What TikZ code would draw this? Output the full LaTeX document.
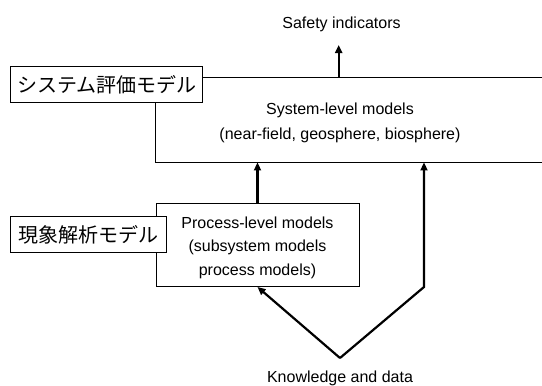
\documentclass[tikz,border=0pt]{standalone}
\usepackage{fontspec}
\setmainfont{Liberation Sans}
\newfontfamily\jpfont{Noto Sans CJK JP}
\usetikzlibrary{positioning,arrows.meta,calc}

\begin{document}
\begin{tikzpicture}[x=1pt,y=-1pt,
  box/.style={draw=black,line width=0.9pt,fill=white,inner sep=0pt},
  lbl/.style={draw=black,line width=0.9pt,fill=white,inner sep=0pt,font=\jpfont\fontsize{20}{24}\selectfont},
  txt/.style={inner sep=0pt,align=center,font=\fontsize{16}{20}\selectfont},
  arr/.style={-{Triangle[length=8pt,width=7pt]},line width=2.2pt}
]
\useasboundingbox (0,0) rectangle (542,386);
% system level
\node[box,draw=none,minimum width=368pt,minimum height=84pt] (sys) at (340,120) {};
\draw[line width=0.9pt] ([xshift=20pt]sys.north east) -| (sys.south west) -- ([xshift=20pt]sys.south east);
\node[txt,font=\fontsize{16}{25}\selectfont] (systext) at (340,123) {System-level models\\(near-field, geosphere, biosphere)};
% process level
\node[box,minimum width=203pt,minimum height=83pt] (proc) at (257.5,245) {};
\node[txt,font=\fontsize{16}{23.5}\selectfont] (proctext) at (257.5,247.5) {Process-level models\\(subsystem models\\process models)};
% japanese labels
\node[lbl,minimum width=192pt,minimum height=36pt] (syslabel) at (106.7,84.5) {システム評価モデル};
\node[lbl,minimum width=156pt,minimum height=36pt] (proclabel) at (88.7,234.5) {現象解析モデル};
% in and out
\node[txt] (safety) at (341.5,24) {Safety indicators};
\node[txt] (knowledge) at (340,378) {Knowledge and data};
\coordinate (kd) at (340,358);
\coordinate (bend) at (424,287);

\draw[arr] (sys.north -| 338.7,0) -- (338.7,45);
\draw[arr] (proc.north) -- (proc.north |- sys.south);
\draw[arr] (kd) -- (proc.south);
\draw[arr] (kd) -- (bend) -- (bend |- sys.south);
\end{tikzpicture}
\end{document}
